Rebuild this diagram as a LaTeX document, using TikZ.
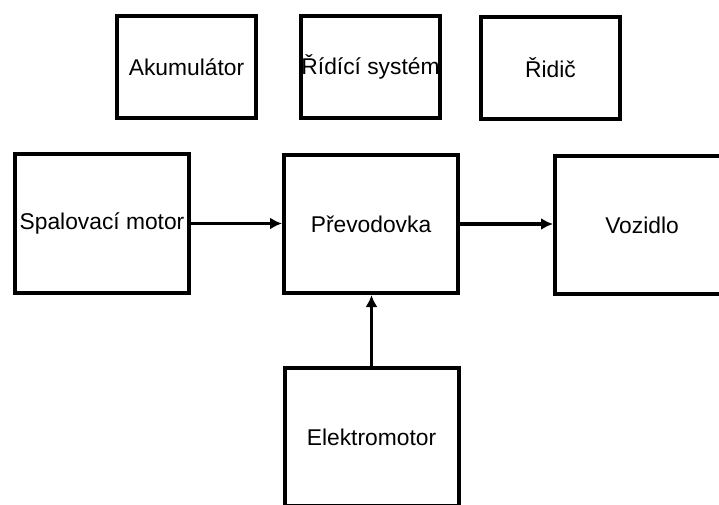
\documentclass[tikz,border=0pt]{standalone}
\usepackage{fontspec}
\setmainfont{Liberation Sans}
\usetikzlibrary{arrows.meta}

\begin{document}
\begin{tikzpicture}[x=1pt, y=-1pt,
		blok/.style={draw, line width=4pt, inner sep=0pt,
			font=\fontsize{22.8}{27}\selectfont},
		maly/.style={blok, minimum width=139pt, minimum height=102pt},
		velky/.style={blok, minimum width=174pt, minimum height=138pt},
		sipka/.style={line width=3.5pt, -{Latex[length=12pt, width=12pt]}}]
			\useasboundingbox (0,0) rectangle (719,505);

			% horni rada
			\node[maly] (akum) at (186.5, 67) {Akumulátor};
			\node[maly] (rizeni) at (370.5, 67) {Řídící systém};
			\node[maly] (ridic) at (550.5, 68) {Řidič};

			% pohon
			\node[velky] (spal) at (102, 223.5) {Spalovací motor};
			\node[velky] (prev) at (371, 224) {Převodovka};
			\node[velky] (voz) at (642, 225) {Vozidlo};
			\node[velky] (elmot) at (371.5, 437) {Elektromotor};

			\draw[sipka] (spal.east) -- (prev.west |- spal.east);
			\draw[sipka] (prev.east) -- (voz.west |- prev.east);
			\draw[sipka] (elmot.north) -- (prev.south -| elmot.north);
		\end{tikzpicture}
\end{document}
